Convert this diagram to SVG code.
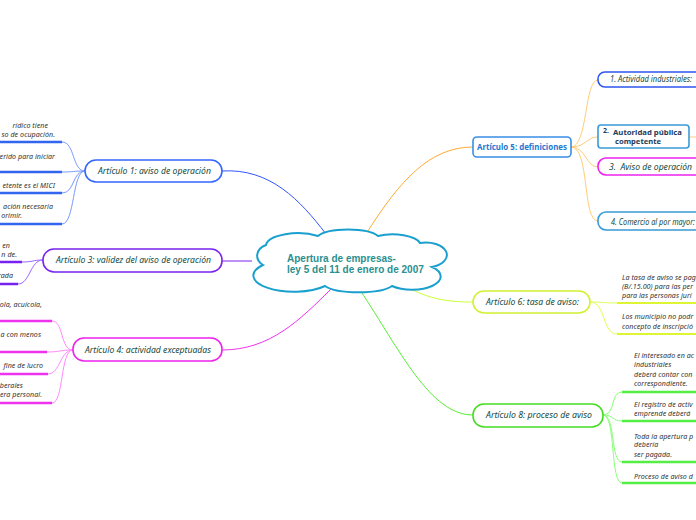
<svg xmlns="http://www.w3.org/2000/svg" width="696" height="520" viewBox="0 0 696 520">
<style>
.lbl{font-family:"Noto Sans","Open Sans",sans-serif;font-style:italic;font-size:9px;fill:#164a3c}
.leaf{font-family:"Noto Sans","Open Sans",sans-serif;font-style:italic;font-size:7.1px;letter-spacing:0.05px;fill:#333}
.lend{text-anchor:end}
.node{fill:#fff;stroke-width:1.6}
.c{fill:none;stroke-width:1}
.b{font-family:"Noto Sans",sans-serif;font-weight:bold;fill:#1e3d5c}
</style>
<rect width="696" height="520" fill="#fff"/>
<g id="connectors">
  <path class="c" d="M222,171 C270,168 300,200 326,234" stroke="#3355ff"/>
  <path class="c" d="M222,261 L252,261" stroke="#7a22ee" stroke-width="1.4"/>
  <path class="c" d="M222,350 C270,350 300,320 332,288" stroke="#ee33ee"/>
  <path class="c" d="M366,234 C400,180 430,147 473,147" stroke="#ffaa33"/>
  <path class="c" d="M405,286 C430,300 450,302 473,302" stroke="#ccff33"/>
  <path class="c" d="M360,290 C400,350 430,415 473,415" stroke="#55ee33"/>
  <g stroke="#7799ff" class="c">
    <path d="M85,171 C72,171 75,142 62,142"/>
    <path d="M85,171 C72,171 75,172 62,172"/>
    <path d="M85,171 C72,171 75,193 62,193"/>
    <path d="M85,171 C72,171 75,224 62,224"/>
  </g>
  <g stroke="#3366ee" stroke-width="2.5">
    <line x1="0" y1="142" x2="62" y2="142"/>
    <line x1="0" y1="172" x2="62" y2="172"/>
    <line x1="0" y1="193" x2="62" y2="193"/>
    <line x1="0" y1="224" x2="62" y2="224"/>
  </g>
  <g stroke="#9966ff" class="c">
    <path d="M43,260 C32,260 34,262 22,262"/>
    <path d="M43,260 C30,260 30,284 18,284"/>
  </g>
  <g stroke="#7722ee" stroke-width="2.5">
    <line x1="0" y1="262" x2="22" y2="262"/>
    <line x1="0" y1="284" x2="18" y2="284"/>
  </g>
  <g stroke="#ff88ff" class="c">
    <path d="M73,350 C60,350 64,321 52,321"/>
    <path d="M73,350 C60,350 60,352 47,352"/>
    <path d="M73,350 C60,350 60,374 48,374"/>
    <path d="M73,350 C60,350 64,403 52,403"/>
  </g>
  <g stroke="#ee33ee" stroke-width="2.5">
    <line x1="0" y1="321" x2="52" y2="321"/>
    <line x1="0" y1="352" x2="47" y2="352"/>
    <line x1="0" y1="374" x2="48" y2="374"/>
    <line x1="0" y1="403" x2="52" y2="403"/>
  </g>
  <g stroke="#ffcc77" class="c">
    <path d="M571,147 C588,147 584,80 598,80"/>
    <path d="M571,147 C586,147 586,137 598,137"/>
    <path d="M571,147 C586,147 586,167 598,167"/>
    <path d="M571,147 C590,147 582,221 598,221"/>
    <path d="M689,137 L696,137"/>
  </g>
  <g stroke="#ddff55" class="c">
    <path d="M590,302 C604,302 604,303 617,303"/>
    <path d="M590,302 C606,302 602,334 617,334"/>
  </g>
  <g stroke="#ddf533" stroke-width="2">
    <line x1="617" y1="303" x2="696" y2="303"/>
    <line x1="617" y1="334" x2="696" y2="334"/>
  </g>
  <g stroke="#88ff77" class="c">
    <path d="M603,415 C616,415 610,392 622,392"/>
    <path d="M603,415 C614,415 612,421 622,421"/>
    <path d="M603,415 C616,415 610,462 622,462"/>
    <path d="M603,415 C616,415 610,483 622,483"/>
  </g>
  <g stroke="#55ee44" stroke-width="2.5">
    <line x1="622" y1="392" x2="696" y2="392"/>
    <line x1="622" y1="421" x2="696" y2="421"/>
    <line x1="622" y1="462" x2="696" y2="462"/>
    <line x1="622" y1="483" x2="696" y2="483"/>
  </g>
</g>
<g id="center">
  <path d="M263,265 A16,12 0 0 1 266,245 A32,13 0 0 1 318,236 A32,10 0 0 1 378,236 A28,11 0 0 1 420,243 A20,12 0 0 1 432,267 A26,12 0 0 1 392,286 A36,10 0 0 1 325,286 A30,12 0 0 1 263,265 Z" fill="#fff" stroke="#1aa0cf" stroke-width="2"/>
  <text x="287" y="262" font-family="Liberation Sans,Arial,sans-serif" font-weight="bold" font-size="10" fill="#2a8f8f">Apertura de empresas-</text>
  <text x="287" y="273" font-family="Liberation Sans,Arial,sans-serif" font-weight="bold" font-size="10" fill="#2a8f8f">ley 5 del 11 de enero de 2007</text>
</g>
<g id="art1">
  <rect class="node" x="85" y="160" width="137" height="22" rx="11" stroke="#3366ff"/>
  <text class="lbl" x="98" y="174" textLength="113" lengthAdjust="spacingAndGlyphs">Artículo 1: aviso de operación</text>
  <text class="leaf lend" x="48" y="127.5">rídico tiene</text>
  <text class="leaf lend" x="55" y="136.5">so de ocupación.</text>
  <text class="leaf lend" x="55" y="158.5">erido para iniciar</text>
  <text class="leaf lend" x="55" y="188">etente es el MICI</text>
  <text class="leaf lend" x="53" y="208.5">ación necesaria</text>
  <text class="leaf lend" x="22" y="217.5">orimir.</text>
</g>
<g id="art3">
  <rect class="node" x="43" y="249" width="179" height="23" rx="11" stroke="#7a22ee"/>
  <text class="lbl" x="56" y="263" textLength="155" lengthAdjust="spacingAndGlyphs">Artículo 3: validez del aviso de operación</text>
  <text class="leaf lend" x="10" y="247.5">en</text>
  <text class="leaf lend" x="17" y="256.5">n de.</text>
  <text class="leaf lend" x="13" y="278">rada</text>
</g>
<g id="art4">
  <rect class="node" x="73" y="338" width="149" height="23" rx="11" stroke="#ee22ee"/>
  <text class="lbl" x="85" y="353" textLength="126" lengthAdjust="spacingAndGlyphs">Artículo 4: actividad exceptuadas</text>
  <text class="leaf lend" x="42" y="306.5">ola, acuícola,</text>
  <text class="leaf lend" x="41" y="337">a con menos</text>
  <text class="leaf lend" x="43" y="368">fine de lucro</text>
  <text class="leaf lend" x="23" y="388">berales</text>
  <text class="leaf lend" x="42" y="397">era personal.</text>
</g>
<g id="art5">
  <rect class="node" x="473" y="137" width="98" height="20" rx="4" stroke="#3a8ee6" stroke-width="1.3"/>
  <text x="477" y="150" font-family="Noto Sans,sans-serif" font-weight="bold" font-size="8.5" fill="#1f78d1" textLength="90" lengthAdjust="spacingAndGlyphs">Artículo 5: definiciones</text>
</g>
<g id="def1">
  <rect class="node" x="598" y="72" width="110" height="15" rx="7" stroke="#2e55ee" stroke-width="1.3"/>
  <text class="lbl" x="610" y="82" font-size="8" fill="#1a3a4a" textLength="82" lengthAdjust="spacingAndGlyphs">1. Actividad industriales:</text>
</g>
<g id="def2">
  <rect class="node" x="598" y="125" width="91" height="23" rx="3" stroke="#3a9ad8" stroke-width="1.3"/>
  <text class="b" x="603" y="133" font-size="7">2.</text>
  <text class="b" x="613" y="135" font-size="7.5" textLength="69" lengthAdjust="spacingAndGlyphs">Autoridad pública</text>
  <text class="b" x="615" y="144" font-size="7.5" textLength="46" lengthAdjust="spacingAndGlyphs">competente</text>
</g>
<g id="def3">
  <rect class="node" x="598" y="158" width="110" height="17" rx="8" stroke="#ee22ee" stroke-width="1.3"/>
  <text class="lbl" x="609" y="170" textLength="83" lengthAdjust="spacingAndGlyphs" xml:space="preserve">3.  Aviso de operación</text>
</g>
<g id="def4">
  <rect class="node" x="598" y="212" width="110" height="18" rx="8" stroke="#3a9ad8" stroke-width="1.3"/>
  <text class="lbl" x="611" y="225" font-size="7.5" fill="#1a2f55" textLength="84" lengthAdjust="spacingAndGlyphs">4. Comercio al por mayor:</text>
</g>
<g id="art6">
  <rect class="node" x="473" y="291" width="117" height="22" rx="11" stroke="#d4f030"/>
  <text class="lbl" x="486" y="305" textLength="93" lengthAdjust="spacingAndGlyphs">Artículo 6: tasa de aviso:</text>
  <text class="leaf" x="622" y="280">La tasa de aviso se pag</text>
  <text class="leaf" x="622" y="289">(B/.15.00) para las per</text>
  <text class="leaf" x="622" y="298">para las personas jurí</text>
  <text class="leaf" x="622" y="319">Los municipio no podr</text>
  <text class="leaf" x="622" y="328.5">concepto de inscripció</text>
</g>
<g id="art8">
  <rect class="node" x="473" y="404" width="130" height="23" rx="11" stroke="#44dd22"/>
  <text class="lbl" x="486" y="418" textLength="106" lengthAdjust="spacingAndGlyphs">Artículo 8: proceso de aviso</text>
  <text class="leaf" x="634" y="358">El interesado en ac</text>
  <text class="leaf" x="634" y="366.5">industriales</text>
  <text class="leaf" x="634" y="376.5">deberá contar con</text>
  <text class="leaf" x="634" y="385.5">correspondiente.</text>
  <text class="leaf" x="634" y="406.5">El registro de activ</text>
  <text class="leaf" x="634" y="415.5">emprende deberá</text>
  <text class="leaf" x="634" y="438.5">Toda la apertura p</text>
  <text class="leaf" x="634" y="447">debería</text>
  <text class="leaf" x="634" y="457">ser pagada.</text>
  <text class="leaf" x="634" y="478.5">Proceso de aviso d</text>
</g>
</svg>
